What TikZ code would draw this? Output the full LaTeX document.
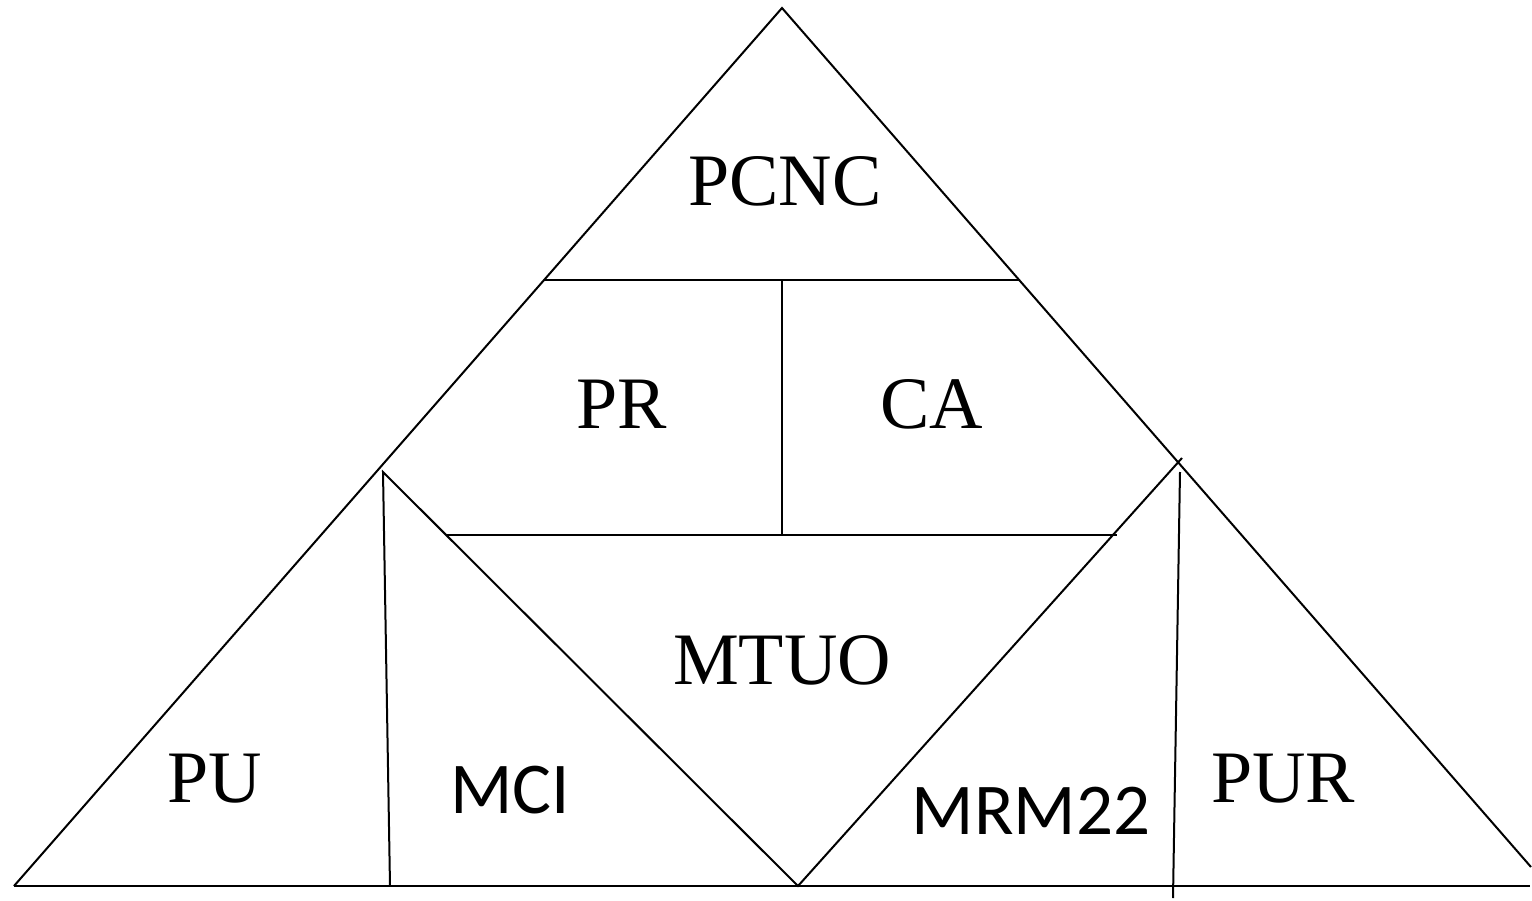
\documentclass[tikz,border=0pt]{standalone}
\usepackage{fontspec}
\setmainfont{Liberation Serif}
\newfontfamily\calfont{Carlito}
\begin{document}
\begin{tikzpicture}[x=1pt,y=-1pt,
  ln/.style={line width=2pt,black},
  tlab/.style={font=\fontsize{74}{80}\selectfont,anchor=base,inner sep=0pt},
  clab/.style={font=\calfont\fontsize{73}{78}\selectfont,anchor=base,inner sep=0pt}]
\useasboundingbox (0,0) rectangle (1532,900);
% coordinates
\coordinate (apex) at (782,8);
\coordinate (bl) at (14,886);
\coordinate (rs) at (1531,867);
\coordinate (b0) at (14,886);
\coordinate (b1) at (1530,886);
\coordinate (h1l) at (544,280);
\coordinate (h1r) at (1020,280);
\coordinate (vt) at (782,280);
\coordinate (vb) at (782,535);
\coordinate (h2l) at (447,535);
\coordinate (h2r) at (1117,535);
\coordinate (mt) at (383,472);
\coordinate (mb) at (390,886);
\coordinate (vm) at (798,886);
\coordinate (rt) at (1182,458);
\coordinate (pt) at (1180,472);
\coordinate (pb) at (1173,898);
% lines
\draw[ln] (bl) -- (apex) -- (rs);
\draw[ln] (b0) -- (b1);
\draw[ln] (h1l) -- (h1r);
\draw[ln] (vt) -- (vb);
\draw[ln] (h2l) -- (h2r);
\draw[ln] (mb) -- (mt) -- (vm) -- (rt);
\draw[ln] (pt) -- (pb);
% labels
\node[tlab] (pcnc) at (785,205) {PCNC};
\node[tlab] (pr) at (622,428) {PR};
\node[tlab] (ca) at (932,428) {CA};
\node[tlab] (mtuo) at (782,684) {MTUO};
\node[tlab] (pu) at (215,802) {PU};
\node[tlab] (pur) at (1283,802) {PUR};
\node[clab] (mci) at (510,813) {MCI};
\node[clab] (mrm) at (1031,834) {MRM22};
\end{tikzpicture}
\end{document}
